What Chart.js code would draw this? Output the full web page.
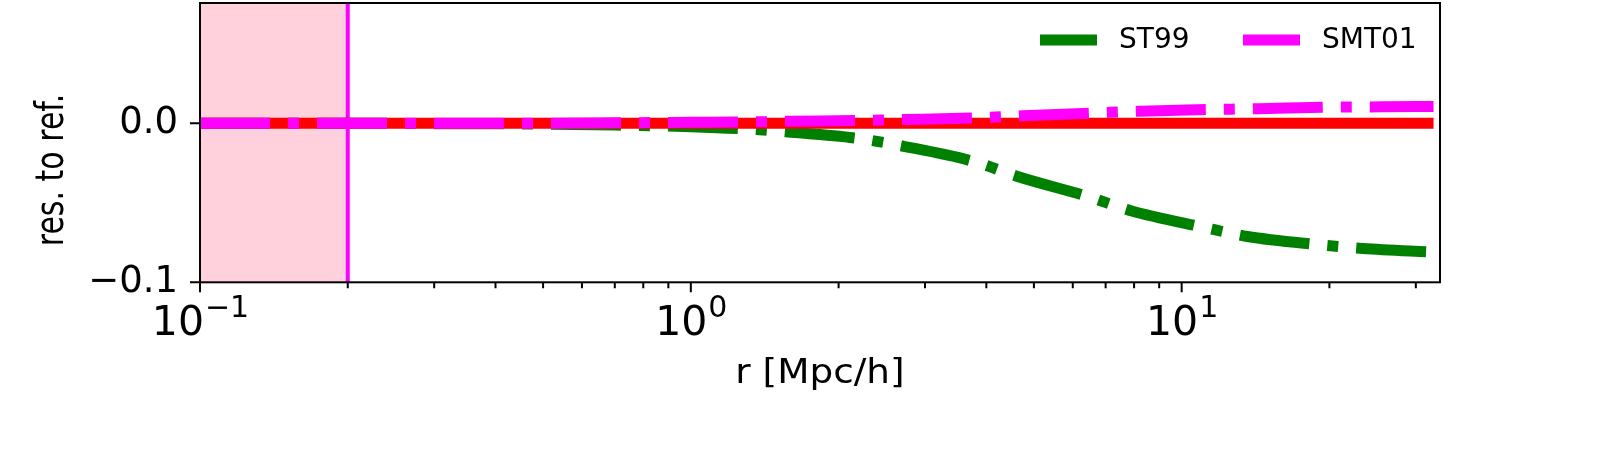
<!DOCTYPE html>
<html>
<head>
<meta charset="utf-8">
<script src="https://cdn.jsdelivr.net/npm/chart.js@4.4.1/dist/chart.umd.min.js"></script>
<style>
  html, body { margin: 0; padding: 0; background: #fff; }
  #wrap { width: 1600px; height: 459px; }
</style>
</head>
<body>
<div id="wrap"><canvas id="chart" width="1600" height="459"></canvas></div>
<script>
// reference line (red) and the two models
const rRef = [0.1, 32.6];
const resRef = [0, 0];

const rST99 = [0.1, 0.2, 0.3, 0.5, 0.7, 1.0, 1.3, 1.58, 2.2, 2.73, 3.79, 4.63, 6.44, 7.91, 11.0, 13.6, 18.8, 23.4, 32.6];
const resST99 = [0, 0, -0.0003, -0.0006, -0.0012, -0.0022, -0.0037, -0.0056, -0.0097, -0.0147, -0.0243, -0.0335, -0.0461, -0.0552, -0.0652, -0.0712, -0.0762, -0.0787, -0.081];

const rSMT01 = [0.1, 0.5, 0.7, 1.0, 1.27, 1.58, 2.2, 2.75, 3.84, 4.75, 6.65, 8.25, 11.6, 14.4, 20.0, 30.5, 32.6];
const resSMT01 = [0, 0, 0.0002, 0.0005, 0.0007, 0.0012, 0.0017, 0.0023, 0.0034, 0.0046, 0.0064, 0.0075, 0.0086, 0.0091, 0.0100, 0.0104, 0.0105];

const xMajorTicks = [0.1, 1, 10];
const xMinorTicks = [0.2, 0.3, 0.4, 0.5, 0.6, 0.7, 0.8, 0.9, 2, 3, 4, 5, 6, 7, 8, 9, 20, 30];
const xTickExponents = ['\u22121', '0', '1'];
const yTicks = [-0.1, 0.0];

const shadeFrom = 0.1;
const shadeTo = 0.2;
const cutAt = 0.2;

const font = "'DejaVu Sans'";

const toPoints = (xs, ys) => xs.map((v, i) => ({x: v, y: ys[i]}));

const decor = {
    id: 'decor',
    beforeDatasetsDraw(chart) {
        const {ctx, chartArea: a, scales: {x}} = chart;
        const x0 = x.getPixelForValue(shadeFrom);
        const x1 = x.getPixelForValue(shadeTo);
        ctx.save();
        ctx.fillStyle = 'rgb(255,209,220)';
        ctx.fillRect(x0, a.top, x1 - x0, a.bottom - a.top);
        const xc = x.getPixelForValue(cutAt);
        ctx.strokeStyle = '#ff00ff';
        ctx.lineWidth = 4;
        ctx.beginPath();
        ctx.moveTo(xc, a.top);
        ctx.lineTo(xc, a.bottom);
        ctx.stroke();
        ctx.restore();
    },
    afterDraw(chart) {
        const {ctx, chartArea: a, scales: {x, y}} = chart;
        ctx.save();
        ctx.strokeStyle = '#000';
        ctx.lineWidth = 2;
        ctx.strokeRect(a.left, a.top, a.right - a.left, a.bottom - a.top);

        // ticks
        ctx.beginPath();
        xMajorTicks.forEach(v => {
            const px = x.getPixelForValue(v);
            ctx.moveTo(px, a.bottom);
            ctx.lineTo(px, a.bottom + 10);
        });
        xMinorTicks.forEach(v => {
            const px = x.getPixelForValue(v);
            ctx.moveTo(px, a.bottom);
            ctx.lineTo(px, a.bottom + 6);
        });
        yTicks.forEach(v => {
            const py = y.getPixelForValue(v);
            ctx.moveTo(a.left, py);
            ctx.lineTo(a.left - 10, py);
        });
        ctx.stroke();

        // x tick labels as 10 with a raised exponent
        ctx.fillStyle = '#000';
        ctx.textBaseline = 'alphabetic';
        xMajorTicks.forEach((v, i) => {
            const px = x.getPixelForValue(v);
            ctx.font = '41px ' + font;
            const wBase = ctx.measureText('10').width;
            ctx.font = '30px ' + font;
            const wExp = ctx.measureText(xTickExponents[i]).width;
            const left = px - (wBase + wExp) / 2;
            ctx.textAlign = 'left';
            ctx.font = '41px ' + font;
            ctx.fillText('10', left, a.bottom + 53);
            ctx.font = '30px ' + font;
            ctx.fillText(xTickExponents[i], left + wBase + 1, a.bottom + 35);
        });

        // axis labels
        ctx.textAlign = 'center';
        ctx.textBaseline = 'middle';
        ctx.save();
        ctx.translate((a.left + a.right) / 2, 374);
        ctx.scale(1.1, 1);
        ctx.font = '34px ' + font;
        ctx.fillText('r [Mpc/h]', 0, 0);
        ctx.restore();
        ctx.save();
        ctx.translate(53, 170);
        ctx.rotate(-Math.PI / 2);
        ctx.scale(1, 1.3);
        ctx.font = '30px ' + font;
        ctx.fillText('res. to ref.', 0, 0);
        ctx.restore();

        // legend
        ctx.font = '28px ' + font;
        ctx.textAlign = 'left';
        ctx.lineWidth = 11;
        let lx = 1040;
        chart.data.datasets.filter(d => d.label).reverse().forEach(d => {
            ctx.strokeStyle = d.borderColor;
            ctx.beginPath();
            ctx.moveTo(lx, 40);
            ctx.lineTo(lx + 57, 40);
            ctx.stroke();
            ctx.fillText(d.label, lx + 79, 41);
            lx += 203;
        });
        ctx.restore();
    }
};

const dashDot = [70, 18, 11, 18];

new Chart(document.getElementById('chart'), {
    type: 'line',
    data: {
        datasets: [
            {
                label: 'SMT01',
                data: toPoints(rSMT01, resSMT01),
                borderColor: '#ff00ff',
                borderWidth: 11,
                borderDash: dashDot,
                borderCapStyle: 'butt',
                cubicInterpolationMode: 'monotone',
                pointRadius: 0
            },
            {
                label: '',
                data: toPoints(rRef, resRef),
                borderColor: '#ff0000',
                borderWidth: 11,
                borderCapStyle: 'butt',
                pointRadius: 0
            },
            {
                label: 'ST99',
                data: toPoints(rST99, resST99),
                borderColor: '#008000',
                borderWidth: 11,
                borderDash: dashDot,
                borderCapStyle: 'butt',
                cubicInterpolationMode: 'monotone',
                pointRadius: 0
            }
        ]
    },
    options: {
        responsive: false,
        animation: false,
        devicePixelRatio: 1,
        layout: {autoPadding: false, padding: {left: 0, top: 3, right: 160, bottom: 0}},
        plugins: {
            legend: {display: false},
            tooltip: {enabled: false}
        },
        scales: {
            x: {
                type: 'logarithmic',
                min: 0.1,
                max: 33.6,
                afterFit: s => {
                    s.height = 176.7;
                    s.paddingLeft = 0;
                    s.paddingRight = 0;
                },
                afterBuildTicks: s => {
                    s.ticks = xMajorTicks.concat(xMinorTicks).sort((a, b) => a - b).map(v => ({value: v}));
                },
                grid: {display: false},
                border: {display: false},
                ticks: {display: false}
            },
            y: {
                type: 'linear',
                min: -0.1,
                max: 0.0755,
                afterFit: s => {
                    s.width = 200;
                    s.paddingTop = 0;
                    s.paddingBottom = 0;
                },
                afterBuildTicks: s => {
                    s.ticks = yTicks.map(v => ({value: v}));
                },
                grid: {display: false},
                border: {display: false},
                ticks: {
                    padding: 14,
                    color: '#000',
                    font: {family: font, size: 37},
                    callback: v => (v < 0 ? '\u2212' : '') + Math.abs(v).toFixed(1)
                }
            }
        }
    },
    plugins: [decor]
});
</script>
</body>
</html>
